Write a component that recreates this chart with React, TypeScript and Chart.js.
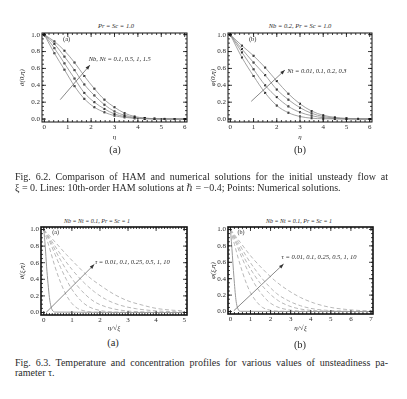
import React, { useEffect, useRef } from "react";
import { Chart, registerables } from "chart.js";
Chart.register(...registerables);

const FONT = "'Liberation Serif', 'DejaVu Serif', serif";
const INK = "#2a2a2a";

// ---------- Fig 6.2 (a): theta(0, eta), Nb = Nt = 0.1, 0.5, 1, 1.5 ----------
const etaA = [0, 0.43, 0.86, 1.29, 1.71, 2.14, 2.57, 3.0, 3.43, 3.86, 4.29, 4.71, 5.14, 5.57, 6.0];
const thetaNb01 = [1, 0.78, 0.585, 0.39, 0.24, 0.14, 0.08, 0.04, 0.02, 0.008, 0.003, 0.001, 0, 0, 0];
const thetaNb05 = [1, 0.84, 0.66, 0.48, 0.31, 0.2, 0.12, 0.06, 0.03, 0.012, 0.005, 0.002, 0.001, 0, 0];
const thetaNb1 = [1, 0.89, 0.74, 0.58, 0.41, 0.28, 0.17, 0.09, 0.045, 0.02, 0.008, 0.003, 0.001, 0, 0];
const thetaNb15 = [1, 0.92, 0.81, 0.67, 0.51, 0.36, 0.23, 0.14, 0.07, 0.03, 0.012, 0.005, 0.002, 0.001, 0];

// ---------- Fig 6.2 (b): phi(0, eta), Nt = 0.01, 0.1, 0.2, 0.3 ----------
const etaB = [0, 0.5, 1, 1.5, 2, 2.5, 3, 3.5, 4, 4.5, 5, 5.5, 6];
const phiNt001 = [1, 0.73, 0.51, 0.31, 0.16, 0.075, 0.03, 0.01, 0.003, 0.001, 0, 0, 0];
const phiNt01 = [1, 0.79, 0.59, 0.4, 0.26, 0.15, 0.08, 0.04, 0.015, 0.005, 0.002, 0, 0];
const phiNt02 = [1, 0.83, 0.67, 0.52, 0.35, 0.23, 0.135, 0.068, 0.03, 0.012, 0.004, 0.001, 0];
const phiNt03 = [1, 0.87, 0.75, 0.61, 0.45, 0.3, 0.18, 0.095, 0.045, 0.02, 0.008, 0.003, 0.001];

// ---------- Fig 6.3 (a): theta(xi, eta) vs eta/sqrt(xi), tau = 0.01 ... 10 ----------
const tA001x = [0, 0.05, 0.1, 0.15, 0.2, 0.25, 0.3, 0.4, 5];
const tA001y = [1, 0.8, 0.55, 0.35, 0.18, 0.08, 0.03, 0.005, 0];
const tA01x = [0, 0.2, 0.4, 0.6, 0.8, 1.0, 1.2, 1.5, 2, 5];
const tA01y = [1, 0.78, 0.55, 0.36, 0.21, 0.11, 0.05, 0.015, 0.003, 0];
const tA025x = [0, 0.2, 0.4, 0.6, 0.8, 1.0, 1.3, 1.6, 2, 2.5, 5];
const tA025y = [1, 0.86, 0.7, 0.54, 0.4, 0.28, 0.15, 0.07, 0.025, 0.006, 0];
const tA05x = [0, 0.3, 0.6, 0.9, 1.2, 1.5, 1.8, 2.2, 2.7, 3.5, 5];
const tA05y = [1, 0.82, 0.63, 0.46, 0.32, 0.21, 0.13, 0.07, 0.03, 0.008, 0];
const tA1x = [0, 0.3, 0.6, 1, 1.4, 1.8, 2.2, 2.7, 3.3, 4, 5];
const tA1y = [1, 0.85, 0.7, 0.52, 0.37, 0.25, 0.16, 0.09, 0.045, 0.02, 0.005];
const tA10x = [0, 0.4, 0.8, 1.2, 1.6, 2, 2.5, 3, 3.5, 4, 4.5, 5];
const tA10y = [1, 0.85, 0.7, 0.56, 0.43, 0.33, 0.22, 0.14, 0.09, 0.05, 0.03, 0.02];

// ---------- Fig 6.3 (b): phi(xi, eta) vs eta/sqrt(xi) ----------
const tB001x = [0, 0.05, 0.1, 0.15, 0.2, 0.25, 0.3, 0.4, 0.5, 7];
const tB001y = [1, 0.85, 0.68, 0.5, 0.34, 0.2, 0.1, 0.02, 0.003, 0];
const tB01x = [0, 0.2, 0.4, 0.6, 0.8, 1.0, 1.3, 1.6, 2, 2.6, 7];
const tB01y = [1, 0.82, 0.64, 0.48, 0.34, 0.23, 0.12, 0.05, 0.015, 0.003, 0];
const tB025x = [0, 0.3, 0.6, 0.9, 1.2, 1.5, 1.9, 2.3, 2.8, 3.5, 7];
const tB025y = [1, 0.82, 0.64, 0.48, 0.34, 0.23, 0.12, 0.06, 0.025, 0.006, 0];
const tB05x = [0, 0.3, 0.7, 1.1, 1.5, 1.9, 2.4, 2.9, 3.5, 4.3, 7];
const tB05y = [1, 0.85, 0.65, 0.48, 0.34, 0.23, 0.13, 0.07, 0.03, 0.01, 0];
const tB1x = [0, 0.4, 0.8, 1.3, 1.8, 2.3, 2.9, 3.5, 4.2, 5, 7];
const tB1y = [1, 0.84, 0.67, 0.49, 0.34, 0.22, 0.13, 0.07, 0.03, 0.012, 0.002];
const tB10x = [0, 0.5, 1, 1.6, 2.2, 2.8, 3.5, 4.2, 5, 5.8, 6.5, 7];
const tB10y = [1, 0.84, 0.68, 0.52, 0.38, 0.27, 0.17, 0.1, 0.05, 0.025, 0.012, 0.008];

// tick labels
const xTicks6 = [0, 1, 2, 3, 4, 5, 6];
const xTicks5 = [0, 1, 2, 3, 4, 5];
const xTicks7 = [0, 1, 2, 3, 4, 5, 6, 7];
const yTicks = [0, 0.2, 0.4, 0.6, 0.8, 1.0];

type Curve = { x: number[]; y: number[]; kind: "ham" | "dash" | "solid" };
type Note = { text: string; at: [number, number]; size?: number; italic?: boolean };
type Arrow = { from: [number, number]; to: [number, number] };

type PanelCfg = {
  cx: number; cy: number; cw: number; ch: number;
  plot: { l: number; t: number; r: number; b: number };
  xMin: number; xMax: number; yMin: number; yMax: number;
  xTicks: number[]; xMinor: number;
  curves: Curve[];
  xTitle: string; yTitle: string;
  notes: Note[]; arrow: Arrow;
  frame: number;
};

function minorList(min: number, max: number, step: number) {
  const out: number[] = [];
  const n = Math.round((max - min) / step);
  for (let i = 0; i <= n; i++) out.push(min + i * step);
  return out;
}

function Panel({ cfg }: { cfg: PanelCfg }) {
  const ref = useRef<HTMLCanvasElement | null>(null);
  useEffect(() => {
    const c = cfg;
    const datasets: any[] = [];
    c.curves.forEach((cv) => {
      const pts = cv.x.map((xv, i) => ({ x: xv, y: cv.y[i] }));
      datasets.push({
        data: pts,
        showLine: true,
        pointRadius: 0,
        borderColor: cv.kind === "ham" ? "#8a8a8a" : cv.kind === "solid" ? "#9a9a9a" : "#b8b8b8",
        borderWidth: cv.kind === "ham" ? 0.8 : 1,
        borderDash: cv.kind === "dash" ? [4, 2.5] : [],
        cubicInterpolationMode: "monotone",
        tension: 0.4,
        fill: false,
      });
      if (cv.kind === "ham") {
        datasets.push({
          data: pts,
          showLine: false,
          pointStyle: "rect",
          pointRadius: 1.4,
          pointBackgroundColor: "#000",
          pointBorderColor: "#000",
          pointBorderWidth: 0,
        });
      }
    });

    const deco = {
      id: "deco",
      afterDatasetsDraw(chart: any) {
        const { ctx, chartArea: a, scales } = chart;
        const xs = scales.x, ys = scales.y;
        ctx.save();
        ctx.strokeStyle = "#111";
        ctx.lineWidth = 0.8;
        const drawX = (v: number, len: number) => {
          const px = xs.getPixelForValue(v);
          if (px < a.left - 0.5 || px > a.right + 0.5) return;
          ctx.beginPath();
          ctx.moveTo(px, a.bottom); ctx.lineTo(px, a.bottom - len);
          ctx.moveTo(px, a.top); ctx.lineTo(px, a.top + len);
          ctx.stroke();
        };
        const drawY = (v: number, len: number) => {
          const py = ys.getPixelForValue(v);
          if (py < a.top - 0.5 || py > a.bottom + 0.5) return;
          ctx.beginPath();
          ctx.moveTo(a.left, py); ctx.lineTo(a.left + len, py);
          ctx.moveTo(a.right, py); ctx.lineTo(a.right - len, py);
          ctx.stroke();
        };
        minorList(0, c.xTicks[c.xTicks.length - 1], c.xMinor).forEach((v) => drawX(v, 2));
        c.xTicks.forEach((v) => drawX(v, 4));
        minorList(0, 1, 0.05).forEach((v) => drawY(v, 2));
        yTicks.forEach((v) => drawY(v, 4));
        ctx.lineWidth = c.frame;
        ctx.strokeRect(a.left, a.top, a.right - a.left, a.bottom - a.top);
        const x1 = xs.getPixelForValue(c.arrow.from[0]);
        const y1 = ys.getPixelForValue(c.arrow.from[1]);
        const x2 = xs.getPixelForValue(c.arrow.to[0]);
        const y2 = ys.getPixelForValue(c.arrow.to[1]);
        ctx.strokeStyle = "#555";
        ctx.fillStyle = "#333";
        ctx.lineWidth = 0.7;
        ctx.beginPath(); ctx.moveTo(x1, y1); ctx.lineTo(x2, y2); ctx.stroke();
        const ang = Math.atan2(y2 - y1, x2 - x1);
        ctx.beginPath();
        ctx.moveTo(x2, y2);
        ctx.lineTo(x2 - 5 * Math.cos(ang - 0.35), y2 - 5 * Math.sin(ang - 0.35));
        ctx.lineTo(x2 - 5 * Math.cos(ang + 0.35), y2 - 5 * Math.sin(ang + 0.35));
        ctx.closePath(); ctx.fill();
        c.notes.forEach((n) => {
          ctx.font = `${n.italic === false ? "" : "italic "}${n.size || 6.5}px ${FONT}`;
          ctx.fillStyle = INK;
          ctx.textBaseline = "middle";
          ctx.textAlign = "left";
          ctx.fillText(n.text, xs.getPixelForValue(n.at[0]), ys.getPixelForValue(n.at[1]));
        });
        ctx.restore();
      },
    };

    const yW = c.plot.l - c.cx;
    const xH = c.cy + c.ch - c.plot.b;
    const chart = new Chart(ref.current as HTMLCanvasElement, {
      type: "scatter",
      data: { datasets },
      plugins: [deco],
      options: {
        animation: false,
        responsive: false,
        maintainAspectRatio: false,
        events: [],
        layout: {
          padding: { top: c.plot.t - c.cy, right: c.cx + c.cw - c.plot.r, bottom: 0, left: 0 },
        },
        plugins: { legend: { display: false }, tooltip: { enabled: false }, title: { display: false } },
        scales: {
          x: {
            type: "linear",
            min: c.xMin,
            max: c.xMax,
            grid: { display: false, drawTicks: false },
            border: { display: false },
            afterBuildTicks: (s: any) => { s.ticks = c.xTicks.map((v) => ({ value: v })); },
            afterFit: (s: any) => { s.height = xH; s.paddingLeft = 0; s.paddingRight = 0; s.paddingTop = 0; s.paddingBottom = 0; },
            ticks: { font: { family: FONT, size: 7 }, color: INK, padding: 1, maxRotation: 0, autoSkip: false, callback: (v: any) => String(v) },
            title: { display: true, text: c.xTitle, font: { family: FONT, size: 7, style: "italic" }, color: INK, padding: { top: 0, bottom: 3.8 } },
          },
          y: {
            type: "linear",
            min: c.yMin,
            max: c.yMax,
            grid: { display: false, drawTicks: false },
            border: { display: false },
            afterBuildTicks: (s: any) => { s.ticks = yTicks.map((v) => ({ value: v })); },
            afterFit: (s: any) => { s.width = yW; s.paddingLeft = 0; s.paddingRight = 0; s.paddingTop = 0; s.paddingBottom = 0; },
            ticks: { font: { family: FONT, size: 7 }, color: INK, padding: 2, autoSkip: false, callback: (v: any) => Number(v).toFixed(1) },
            title: { display: true, text: c.yTitle, font: { family: FONT, size: 7, style: "italic" }, color: INK, padding: { top: (c.cx === 0 ? 22 : 213 - c.cx) - 4.2, bottom: 0 } },
          },
        },
      } as any,
    });
    return () => chart.destroy();
  }, [cfg]);
  return (
    <canvas
      ref={ref}
      width={cfg.cw}
      height={cfg.ch}
      style={{ position: "absolute", left: cfg.cx, top: cfg.cy, width: cfg.cw, height: cfg.ch }}
    />
  );
}

const topA: PanelCfg = {
  cx: 0, cy: 23, cw: 197, ch: 122,
  plot: { l: 42, t: 33, r: 187, b: 122 },
  xMin: -0.1, xMax: 6.1, yMin: -0.035, yMax: 1.02,
  xTicks: xTicks6, xMinor: 0.2,
  curves: [thetaNb01, thetaNb05, thetaNb1, thetaNb15].map((y) => ({ x: etaA, y, kind: "ham" as const })),
  xTitle: "η", yTitle: "θ(0,η)",
  notes: [
    { text: "(a)", at: [0.8, 0.94], italic: false, size: 6.5 },
    { text: "Nb, Nt = 0.1, 0.5, 1, 1.5", at: [1.9, 0.71] },
  ],
  arrow: { from: [0.68, 0.23], to: [1.95, 0.64] },
  frame: 1,
};

const topB: PanelCfg = {
  cx: 186, cy: 23, cw: 196, ch: 122,
  plot: { l: 228, t: 33, r: 372, b: 122 },
  xMin: -0.1, xMax: 6.1, yMin: -0.035, yMax: 1.02,
  xTicks: xTicks6, xMinor: 0.2,
  curves: [phiNt001, phiNt01, phiNt02, phiNt03].map((y) => ({ x: etaB, y, kind: "ham" as const })),
  xTitle: "η", yTitle: "φ(0,η)",
  notes: [
    { text: "(b)", at: [0.8, 0.94], italic: false, size: 6.5 },
    { text: "Nt = 0.01, 0.1, 0.2, 0.3", at: [2.45, 0.57] },
  ],
  arrow: { from: [0.9, 0.21], to: [2.35, 0.58] },
  frame: 1,
};

const botA: PanelCfg = {
  cx: 0, cy: 217, cw: 197, ch: 119,
  plot: { l: 41, t: 227, r: 187, b: 315 },
  xMin: -0.1, xMax: 5.1, yMin: -0.03, yMax: 1.03,
  xTicks: xTicks5, xMinor: 0.1,
  curves: [
    { x: tA001x, y: tA001y, kind: "solid" },
    { x: tA01x, y: tA01y, kind: "dash" },
    { x: tA025x, y: tA025y, kind: "dash" },
    { x: tA05x, y: tA05y, kind: "dash" },
    { x: tA1x, y: tA1y, kind: "dash" },
    { x: tA10x, y: tA10y, kind: "dash" },
  ],
  xTitle: "η/√ξ", yTitle: "θ(ξ,η)",
  notes: [
    { text: "(a)", at: [0.3, 0.96], italic: false, size: 6 },
    { text: "τ = 0.01, 0.1, 0.25, 0.5, 1, 10", at: [1.82, 0.6] },
  ],
  arrow: { from: [0.08, 0.0], to: [1.8, 0.58] },
  frame: 1.6,
};

const botB: PanelCfg = {
  cx: 186, cy: 217, cw: 197, ch: 119,
  plot: { l: 228, t: 227, r: 373, b: 314 },
  xMin: -0.12, xMax: 7.1, yMin: -0.03, yMax: 1.03,
  xTicks: xTicks7, xMinor: 0.2,
  curves: [
    { x: tB001x, y: tB001y, kind: "solid" },
    { x: tB01x, y: tB01y, kind: "dash" },
    { x: tB025x, y: tB025y, kind: "dash" },
    { x: tB05x, y: tB05y, kind: "dash" },
    { x: tB1x, y: tB1y, kind: "dash" },
    { x: tB10x, y: tB10y, kind: "dash" },
  ],
  xTitle: "η/√ξ", yTitle: "φ(ξ,η)",
  notes: [
    { text: "(b)", at: [0.35, 0.97], italic: false, size: 6 },
    { text: "τ = 0.01, 0.1, 0.25, 0.5, 1, 10", at: [2.55, 0.66] },
  ],
  arrow: { from: [0.17, 0.01], to: [2.65, 0.58] },
  frame: 1.6,
};

function T({ x, y, size = 7, italic = false, children }: any) {
  return (
    <div
      style={{
        position: "absolute", left: x, top: y, transform: "translate(-50%,-50%)",
        fontSize: size, fontStyle: italic ? "italic" : "normal", whiteSpace: "nowrap",
        lineHeight: 1, color: INK, fontFamily: FONT,
      }}
    >
      {children}
    </div>
  );
}

function Line({ y, text, justify = true }: { y: number; text: string; justify?: boolean }) {
  return (
    <div
      style={{
        position: "absolute", left: 15, top: y - 6, width: 373, height: 12, lineHeight: "12px",
        fontSize: 10, fontFamily: FONT, color: INK, whiteSpace: "nowrap",
        textAlign: justify ? "justify" : "left", textAlignLast: justify ? "justify" : "left",
      } as any}
    >
      {text}
    </div>
  );
}

export default function App() {
  return (
    <div style={{ position: "fixed", left: 0, top: 0, width: 407, height: 399, background: "#fff", overflow: "hidden" }}>
      <T x={116} y={26} size={6.5} italic>Pr = Sc = 1.0</T>
      <T x={300} y={26} size={6.5} italic>Nb = 0.2, Pr = Sc = 1.0</T>
      <Panel cfg={topA} />
      <Panel cfg={topB} />
      <T x={115} y={150} size={10.5}>(a)</T>
      <T x={300} y={150} size={10.5}>(b)</T>
      <Line y={177} text="Fig. 6.2.   Comparison of HAM and numerical solutions for the initial unsteady flow at" />
      <Line y={188} text="ξ = 0. Lines: 10th-order HAM solutions at ℏ = −0.4; Points: Numerical solutions." justify={false} />
      <T x={97} y={221} size={6} italic>Nb = Nt = 0.1, Pr = Sc = 1</T>
      <T x={299} y={221} size={6} italic>Nb = Nt = 0.1, Pr = Sc = 1</T>
      <Panel cfg={botA} />
      <Panel cfg={botB} />
      <T x={113} y={343} size={10.5}>(a)</T>
      <T x={300} y={345} size={10.5}>(b)</T>
      <Line y={363} text="Fig. 6.3.   Temperature and concentration profiles for various values of unsteadiness pa-" />
      <Line y={373} text="rameter τ." justify={false} />
    </div>
  );
}
